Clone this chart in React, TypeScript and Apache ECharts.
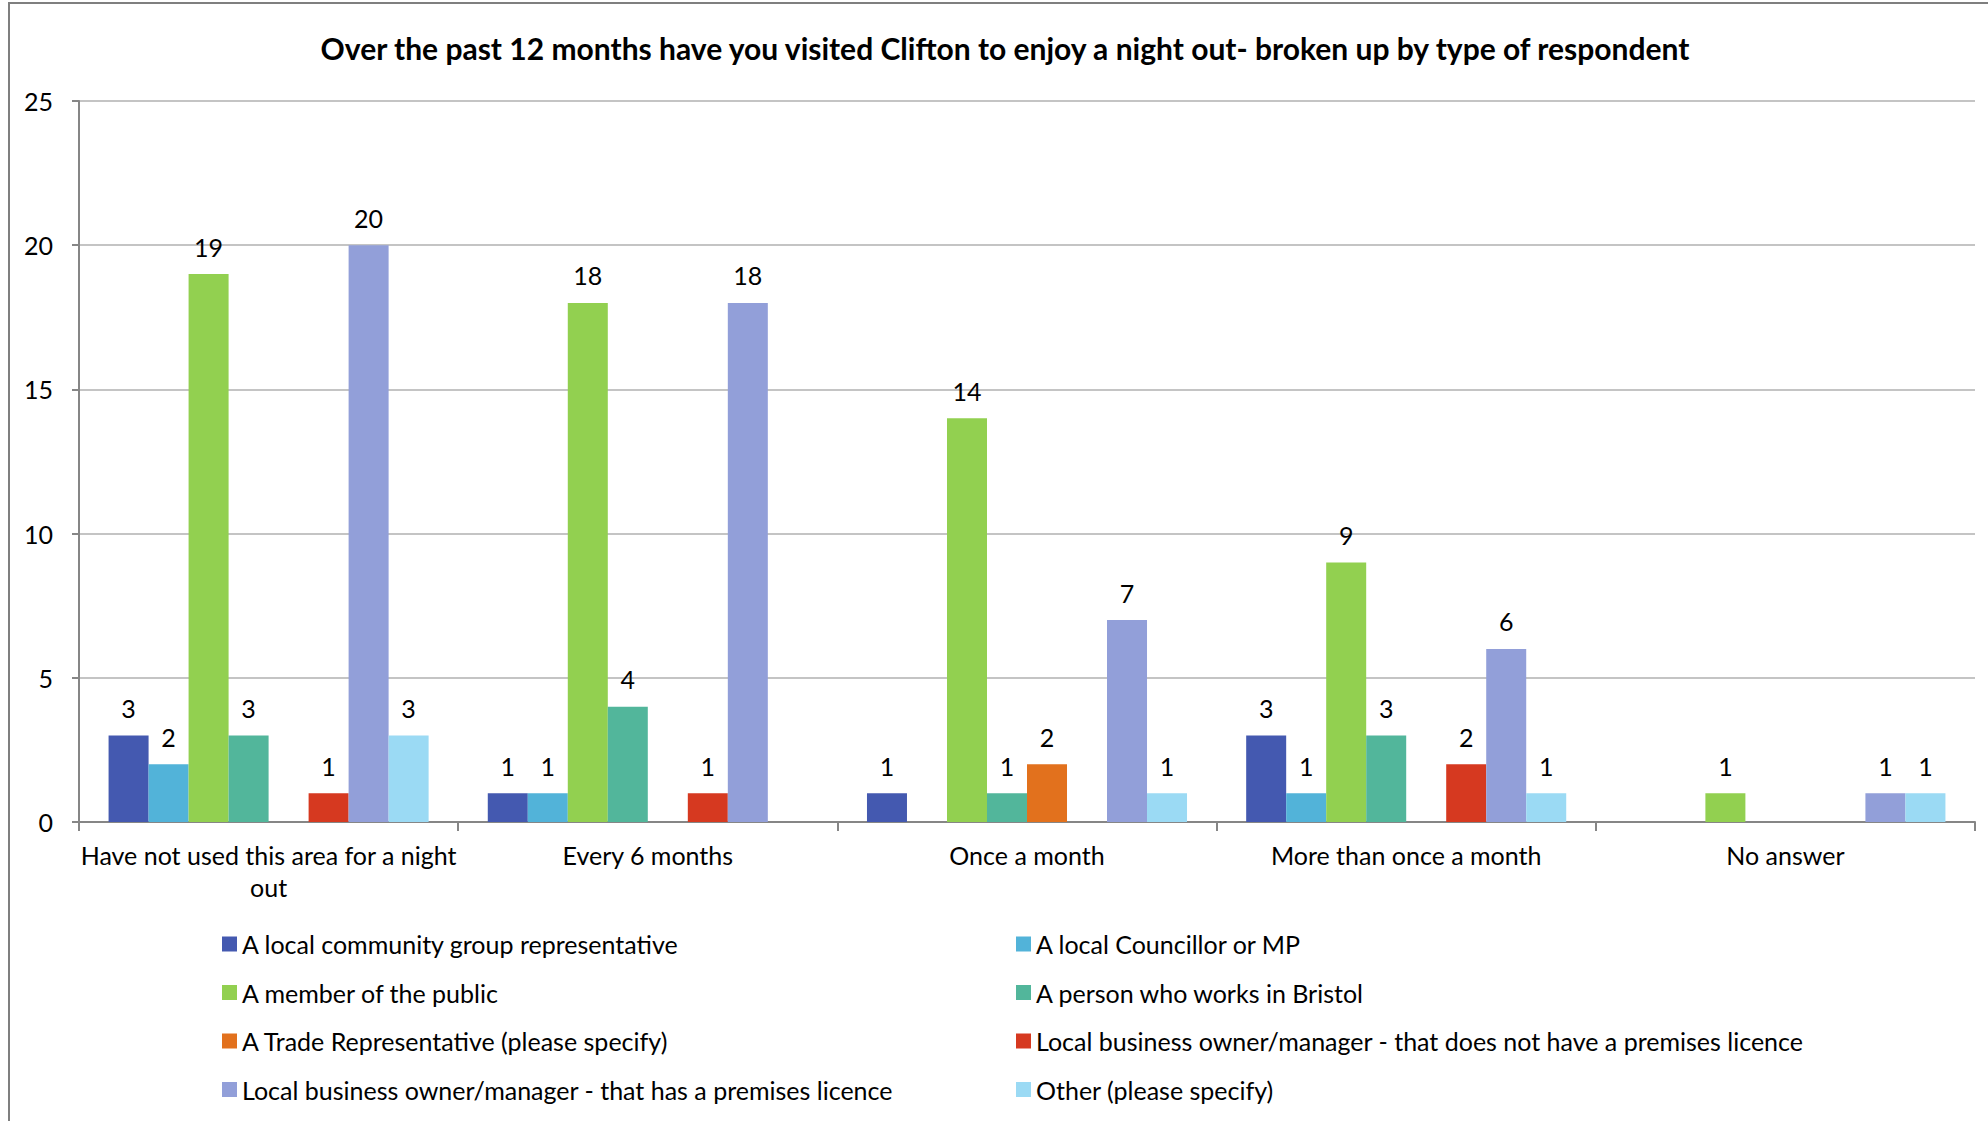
import React, { useEffect, useRef } from "react";
import * as echarts from "echarts";

const categories = [
  "Have not used this area for a night out",
  "Every 6 months",
  "Once a month",
  "More than once a month",
  "No answer",
];

const seriesNames = [
  "A local community group representative",
  "A local Councillor or MP",
  "A member of the public",
  "A person who works in Bristol",
  "A Trade Representative (please specify)",
  "Local business owner/manager - that does not have a premises licence",
  "Local business owner/manager - that has a premises licence",
  "Other (please specify)",
];

const communityGroup = [3, 1, 1, 3, 0];
const councillor = [2, 1, 0, 1, 0];
const publicMember = [19, 18, 14, 9, 1];
const worksInBristol = [3, 4, 1, 3, 0];
const tradeRep = [0, 0, 2, 0, 0];
const businessNoLicence = [1, 1, 0, 2, 0];
const businessLicence = [20, 18, 7, 6, 1];
const other = [3, 0, 1, 1, 1];

const seriesValues = [
  communityGroup,
  councillor,
  publicMember,
  worksInBristol,
  tradeRep,
  businessNoLicence,
  businessLicence,
  other,
];

const colors = [
  "#4459B0",
  "#52B3D9",
  "#92D050",
  "#52B69B",
  "#E2711D",
  "#D63920",
  "#929FD9",
  "#9BDAF4",
];

const yTicks = { min: 0, max: 25, interval: 5 };
const titleText =
  "Over the past 12 months have you visited Clifton to enjoy a night out- broken up by type of respondent";

const FONT = "Lato";
const FS = 25;

export default function App() {
  const ref = useRef<HTMLDivElement>(null);
  useEffect(() => {
    if (!ref.current) return;
    const chart = echarts.init(ref.current, null, { renderer: "svg" });
    const legendCommon = {
      orient: "vertical",
      icon: "rect",
      itemWidth: 15,
      itemHeight: 15,
      itemGap: 22.5,
      top: 926,
      padding: 5,
      textStyle: { fontFamily: FONT, fontSize: FS, color: "#000", lineHeight: 26 },
      selectedMode: false,
    };
    chart.setOption({
      animation: false,
      color: colors,
      textStyle: { fontFamily: FONT },
      graphic: [
        {
          type: "rect",
          shape: { x: 9, y: 3, width: 2100, height: 1300 },
          style: { fill: "none", stroke: "#7f7f7f", lineWidth: 2 },
          silent: true,
        },
        {
          type: "text",
          x: 1005,
          y: 48,
          style: {
            text: titleText,
            font: `bold 30px ${FONT}`,
            fill: "#000",
            textAlign: "center",
            textVerticalAlign: "middle",
          },
        },
      ],
      legend: [
        { ...legendCommon, left: 217, data: [0, 2, 4, 6].map((i) => seriesNames[i]) },
        { ...legendCommon, left: 1011, data: [1, 3, 5, 7].map((i) => seriesNames[i]) },
      ],
      grid: { left: 79, right: 13, top: 101, bottom: 299, containLabel: false },
      xAxis: {
        type: "category",
        data: categories,
        axisLine: { lineStyle: { color: "#868686", width: 2 } },
        axisTick: { show: true, length: 9, lineStyle: { color: "#868686", width: 2 } },
        axisLabel: {
          fontFamily: FONT,
          fontSize: FS,
          color: "#000",
          margin: 17,
          lineHeight: 32,
          interval: 0,
          formatter: (v: string) => v.replace("night out", "night\nout"),
        },
      },
      yAxis: {
        type: "value",
        min: yTicks.min,
        max: yTicks.max,
        interval: yTicks.interval,
        axisLine: { show: true, lineStyle: { color: "#868686", width: 2 } },
        axisTick: { show: true, length: 7, lineStyle: { color: "#868686", width: 2 } },
        splitLine: { lineStyle: { color: "#c4c4c4", width: 2 } },
        axisLabel: { fontFamily: FONT, fontSize: FS, color: "#000", margin: 26 },
      },
      series: seriesValues.map((vals, i) => ({
        type: "bar",
        name: seriesNames[i],
        data: vals,
        barGap: "0%",
        barCategoryGap: "15.6%",
        itemStyle: { color: colors[i] },
        label: {
          show: true,
          position: "top",
          distance: 15,
          fontFamily: FONT,
          fontSize: FS,
          color: "#000",
          formatter: (p: any) => (p.value === 0 ? "" : String(p.value)),
        },
      })),
    });
    return () => chart.dispose();
  }, []);
  return (
    <div
      ref={ref}
      style={{ position: "absolute", left: 0, top: 0, width: 1988, height: 1121, background: "#fff" }}
    />
  );
}
